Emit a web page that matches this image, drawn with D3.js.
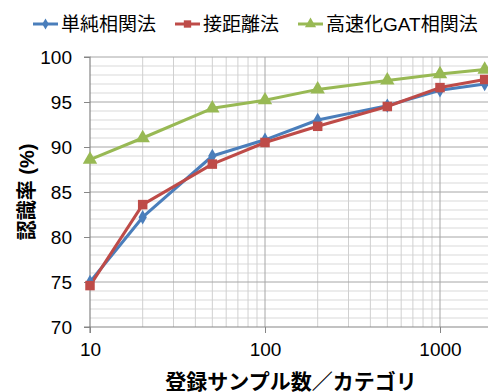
<!DOCTYPE html>
<html><head><meta charset="utf-8">
<script src="https://cdn.jsdelivr.net/npm/d3@7"></script>
<style>
body{margin:0;background:#fff;}
text{font-family:"Liberation Sans","Noto Sans CJK JP",sans-serif;}
</style></head>
<body><svg id="c" width="488" height="392"></svg>
<script>
const samples = [10, 20, 50, 100, 200, 500, 1000, 1800];
const seriesNames = ["単純相関法", "接距離法", "高速化GAT相関法"];
const simpleCorr = [75.0, 82.2, 89.0, 90.8, 93.0, 94.6, 96.3, 97.0];
const tangentDist = [74.6, 83.6, 88.1, 90.5, 92.3, 94.5, 96.6, 97.5];
const fastGAT = [88.6, 91.0, 94.3, 95.2, 96.4, 97.4, 98.1, 98.6];
const yTicks = [70, 75, 80, 85, 90, 95, 100];
const xTicks = [10, 100, 1000];
const xTitle = "登録サンプル数／カテゴリ";
const yTitle = "認識率 (%)";

const colors = ["#4A7EBB", "#BE4B48", "#98B954"];
const markers = [d3.symbolDiamond, d3.symbolSquare, d3.symbolTriangle];
const markerSizes = [60, 90, 90];
const seriesData = [simpleCorr, tangentDist, fastGAT];

const svg = d3.select("#c");
const W = 488;
const x = d3.scaleLog().domain([10, 1000]).range([90, 440]);
const y = d3.scaleLinear().domain([70, 100]).range([327, 57]);

// gridlines
const g = svg.append("g");
const minorY = d3.range(70, 101, 1).filter(v => v % 5 !== 0);
g.selectAll(".hmin").data(minorY).enter().append("line")
  .attr("x1", 90).attr("x2", W).attr("y1", d => y(d)).attr("y2", d => y(d))
  .attr("stroke", "#d9d9d9").attr("stroke-width", 1);
const minorX = [];
[10, 100, 1000].forEach(b => { for (let k = 2; k <= 9; k++) { if (b*k <= 2500) minorX.push(b*k); } });
g.selectAll(".vmin").data(minorX.filter(v => x(v) < W)).enter().append("line")
  .attr("x1", d => x(d)).attr("x2", d => x(d)).attr("y1", 57).attr("y2", 327)
  .attr("stroke", "#d0d0d0").attr("stroke-width", 1);
g.selectAll(".hmaj").data(yTicks.filter(v => v !== 70)).enter().append("line")
  .attr("x1", 90).attr("x2", W).attr("y1", d => y(d)).attr("y2", d => y(d))
  .attr("stroke", "#a6a6a6").attr("stroke-width", 1);
g.selectAll(".vmaj").data(xTicks.filter(v => v !== 10)).enter().append("line")
  .attr("x1", d => x(d)).attr("x2", d => x(d)).attr("y1", 57).attr("y2", 327)
  .attr("stroke", "#a6a6a6").attr("stroke-width", 1);

// axes
const yAxis = d3.axisLeft(y).tickValues(yTicks).tickSize(6).tickPadding(12);
const ya = svg.append("g").attr("transform", "translate(90,0)").call(yAxis);
const xAxis = d3.axisBottom(x).tickValues(xTicks).tickFormat(d3.format("d")).tickSize(6).tickPadding(10);
const xa = svg.append("g").attr("transform", "translate(0,327)").call(xAxis);
[ya, xa].forEach(a => {
  a.select(".domain").attr("stroke", "#868686").attr("stroke-width", 1.2);
  a.selectAll(".tick line").attr("stroke", "#868686");
  a.selectAll(".tick text").attr("font-size", 19).attr("fill", "#000")
    .attr("font-family", "'Liberation Sans', Arial, sans-serif");
});
xa.select(".domain").attr("d", `M90,6V0H${W}`);
ya.select(".domain").attr("d", "M-6,57H0V327H-6");

// lines
const line = d3.line().x((d, i) => x(samples[i])).y(d => y(d));
seriesData.forEach((s, si) => {
  svg.append("path").datum(s).attr("d", line)
    .attr("fill", "none").attr("stroke", colors[si]).attr("stroke-width", 3)
    .attr("stroke-linejoin", "round");
});
seriesData.forEach((s, si) => {
  svg.append("g").selectAll("path").data(s).enter().append("path")
    .attr("transform", (d, i) => `translate(${x(samples[i])},${y(d)})`)
    .attr("d", d3.symbol().type(markers[si]).size(markerSizes[si]))
    .attr("fill", colors[si]);
});

// legend
const legX = [33, 175, 298];
const leg = svg.append("g");
seriesNames.forEach((n, i) => {
  const lg = leg.append("g").attr("transform", `translate(${legX[i]},24)`);
  lg.append("line").attr("x1", 0).attr("x2", 25).attr("y1", 0).attr("y2", 0)
    .attr("stroke", colors[i]).attr("stroke-width", 3);
  lg.append("path").attr("transform", "translate(12.5,0)")
    .attr("d", d3.symbol().type(markers[i]).size(markerSizes[i] * 0.6)).attr("fill", colors[i]);
  lg.append("text").attr("x", 28).attr("y", 7).attr("font-size", 19).attr("fill", "#000").text(n);
});

// titles
svg.append("text").attr("x", 291).attr("y", 389).attr("text-anchor", "middle")
  .attr("font-size", 21).attr("font-weight", "bold").attr("fill", "#000").text(xTitle);
svg.append("text").attr("transform", "translate(34,192) rotate(-90)").attr("text-anchor", "middle")
  .attr("font-size", 20).attr("font-weight", "bold").attr("fill", "#000").text(yTitle);
</script></body></html>
